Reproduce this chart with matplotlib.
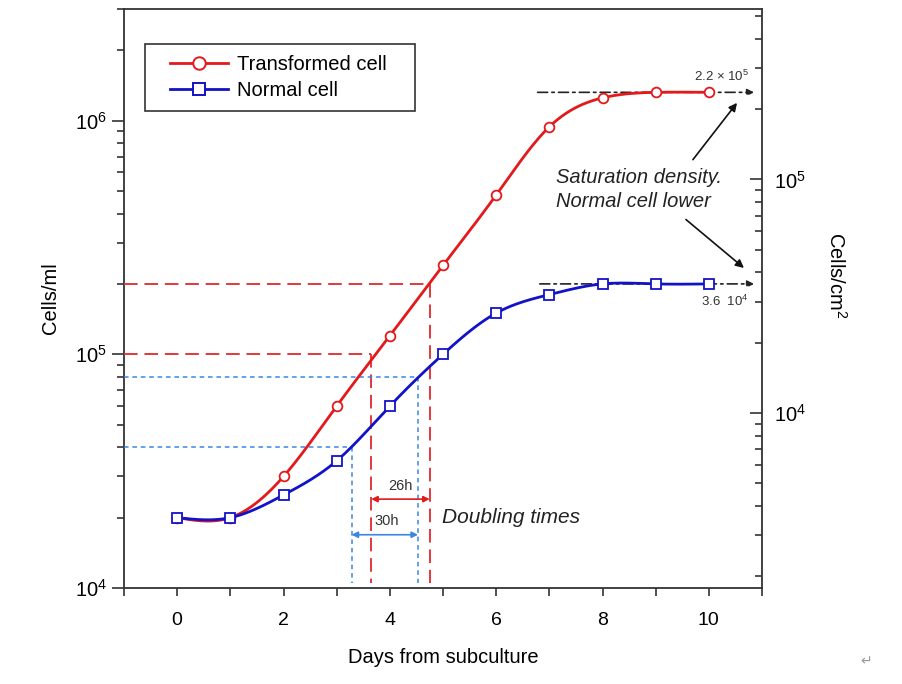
import numpy as np
import matplotlib
matplotlib.use("Agg")
import matplotlib.pyplot as plt
from matplotlib.patches import Rectangle
from matplotlib.ticker import LogLocator, NullFormatter, FixedLocator

plt.rcParams["font.family"] = ["Liberation Sans", "DejaVu Sans"]
plt.rcParams["mathtext.fontset"] = "custom"
plt.rcParams["mathtext.rm"] = "Liberation Sans"
plt.rcParams["mathtext.it"] = "Liberation Sans:italic"

# data
days = [0, 1, 2, 3, 4, 5, 6, 7, 8, 9, 10]
transformed = [2.0e4, 2.0e4, 3.0e4, 6.0e4, 1.2e5, 2.4e5, 4.8e5, 9.4e5, 1.25e6, 1.32e6, 1.32e6]
normal = [2.0e4, 2.0e4, 2.5e4, 3.5e4, 6.0e4, 1.0e5, 1.5e5, 1.8e5, 2.0e5, 2.0e5, 2.0e5]

# doubling-time guides: (y level, x where it meets the curve)
red_guides = [(1.0e5, 3.65), (2.0e5, 4.75)]
blue_guides = [(4.0e4, 3.28), (8.0e4, 4.53)]
sat_red, sat_blue = 1.32e6, 2.0e5
cm2_factor = 5.6  # cells/ml per cells/cm2


def natural_spline(x, y, xs):
    x = np.asarray(x, float); y = np.asarray(y, float)
    n = len(x); h = np.diff(x)
    A = np.zeros((n, n)); b = np.zeros(n)
    A[0, 0] = A[-1, -1] = 1
    for i in range(1, n - 1):
        A[i, i - 1] = h[i - 1]; A[i, i] = 2 * (h[i - 1] + h[i]); A[i, i + 1] = h[i]
        b[i] = 3 * ((y[i + 1] - y[i]) / h[i] - (y[i] - y[i - 1]) / h[i - 1])
    c = np.linalg.solve(A, b)
    out = np.empty_like(xs)
    for k, t in enumerate(xs):
        i = min(max(np.searchsorted(x, t) - 1, 0), n - 2)
        bi = (y[i + 1] - y[i]) / h[i] - h[i] * (2 * c[i] + c[i + 1]) / 3
        di = (c[i + 1] - c[i]) / (3 * h[i])
        dt = t - x[i]
        out[k] = y[i] + bi * dt + c[i] * dt ** 2 + di * dt ** 3
    return out


RED = "#e3191c"
BLUE = "#1212c8"
DRED = "#e2383c"
DBLUE = "#3a86e0"
FS = 14.5

fig = plt.figure(figsize=(9.02, 6.84), dpi=100)
ax = fig.add_axes([124 / 902, 1 - 588 / 684, (762 - 124) / 902, (588 - 9) / 684])
ax.set_yscale("log")
ax.set_xlim(-1, 11)
ax.set_ylim(1e4, 3e6)

xs = np.linspace(0, 10, 400)
ax.plot(xs, 10 ** natural_spline(days, np.log10(transformed), xs), color=RED, lw=2, zorder=4)
ax.plot(xs, 10 ** natural_spline(days, np.log10(normal), xs), color=BLUE, lw=2, zorder=4)
ax.plot(days, transformed, "o", color=RED, mfc="white", mew=1.3, ms=7, zorder=5)
ax.plot(days, normal, "s", color=BLUE, mfc="white", mew=1.3, ms=7.5, zorder=6)
# legend proxies
ax.plot([], [], "-o", color=RED, mfc="white", mew=1.4, ms=9, lw=2, label="Transformed cell")
ax.plot([], [], "-s", color=BLUE, mfc="white", mew=1.4, ms=9, lw=2, label="Normal cell")

for yv, xv in red_guides:
    ax.plot([-1, xv], [yv, yv], color=DRED, lw=1.4, dashes=(7, 3.5), zorder=3)
    ax.plot([xv, xv], [yv, 1.05e4], color=DRED, lw=1.4, dashes=(7, 3.5), zorder=3)
for yv, xv in blue_guides:
    ax.plot([-1, xv], [yv, yv], color=DBLUE, lw=1.1, dashes=(3, 2.5), zorder=3)
    ax.plot([xv, xv], [yv, 1.05e4], color=DBLUE, lw=1.1, dashes=(3, 2.5), zorder=3)

ax.annotate("", xy=(red_guides[1][1], 2.4e4), xytext=(red_guides[0][1], 2.4e4),
            arrowprops=dict(arrowstyle="<|-|>", color=RED, lw=1.2, mutation_scale=9, shrinkA=0, shrinkB=0))
ax.text(4.2, 2.55e4, "26h", fontsize=10.5, ha="center", va="bottom", color="#333333")
ax.annotate("", xy=(blue_guides[1][1], 1.69e4), xytext=(blue_guides[0][1], 1.69e4),
            arrowprops=dict(arrowstyle="<|-|>", color=DBLUE, lw=1.2, mutation_scale=9, shrinkA=0, shrinkB=0))
ax.text(3.95, 1.8e4, "30h", fontsize=10.5, ha="center", va="bottom", color="#333333")
ax.text(4.99, 2.0e4, "Doubling times", fontsize=15, style="italic", va="center", color="#222222")

# saturation lines
for yv, x0 in [(sat_red, 6.78), (sat_blue, 6.82)]:
    ax.annotate("", xy=(10.85, yv), xytext=(x0, yv),
                arrowprops=dict(arrowstyle="-|>", color="#222222", lw=1.2, ls=(0, (6, 2.5, 1.5, 2.5)),
                                mutation_scale=10, shrinkA=0, shrinkB=0), zorder=3)
ax.text(10.75, 1.55e6, r"2.2 $\times$ 10$^{5}$", fontsize=9.5, ha="right", va="center", color="#333333")
ax.text(10.75, 1.68e5, r"3.6  10$^{4}$", fontsize=9.5, ha="right", va="center", color="#333333")
ax.text(7.12, 5.06e5, "Saturation density.\nNormal cell lower", fontsize=FS, style="italic",
        va="center", ha="left", linespacing=1.3, color="#222222")
ax.annotate("", xy=(10.53, 1.19e6), xytext=(9.70, 6.8e5),
            arrowprops=dict(arrowstyle="-|>", color="#111111", lw=1.2, mutation_scale=12, shrinkA=0, shrinkB=0))
ax.annotate("", xy=(10.66, 2.34e5), xytext=(9.57, 3.77e5),
            arrowprops=dict(arrowstyle="-|>", color="#111111", lw=1.2, mutation_scale=12, shrinkA=0, shrinkB=0))

# axes styling
for s in ax.spines.values():
    s.set_color("#333333"); s.set_linewidth(1.3)
ax.xaxis.set_major_locator(FixedLocator([0, 2, 4, 6, 8, 10]))
ax.xaxis.set_minor_locator(FixedLocator([-1, 1, 3, 5, 7, 9, 11]))
ax.tick_params(axis="x", which="both", direction="out", length=6, width=1.2, color="#333333",
               labelsize=14, pad=11)
ax.tick_params(axis="y", which="major", direction="out", length=9, width=1.2, color="#333333",
               labelsize=FS, right=False)
ax.tick_params(axis="y", which="minor", direction="out", length=5, width=1.2, color="#333333", right=False)
ax.yaxis.set_major_locator(LogLocator(base=10))
ax.yaxis.set_minor_locator(LogLocator(base=10, subs=np.arange(2, 10)))
ax.yaxis.set_minor_formatter(NullFormatter())
ax.set_xlabel("Days from subculture", fontsize=FS, labelpad=14)
ax.set_ylabel("Cells/ml", fontsize=FS)
ax.yaxis.set_label_coords(-0.101, 0.5)

ax2 = ax.twinx()
ax2.set_yscale("log")
ax2.set_ylim(1e4 / cm2_factor, 3e6 / cm2_factor)
ax2.yaxis.set_major_locator(LogLocator(base=10))
ax2.yaxis.set_minor_locator(LogLocator(base=10, subs=np.arange(2, 10)))
ax2.yaxis.set_minor_formatter(NullFormatter())
ax2.tick_params(axis="y", which="major", direction="in", length=9, width=1.2, color="#333333",
                labelsize=FS, pad=9)
ax2.tick_params(axis="y", which="minor", direction="in", length=5, width=1.2, color="#333333")
for s in ax2.spines.values():
    s.set_visible(False)
ax2.set_ylabel("Cells/cm$^{2}$", fontsize=FS, rotation=270, va="center")
ax2.yaxis.set_label_coords(1.117, 0.54)

# legend: frame drawn separately to match the wide box
ax.add_patch(Rectangle(((145 - 124) / 638, (588 - 111) / 579), 270 / 638, 67 / 579,
                       transform=ax.transAxes, fill=True, facecolor="white", edgecolor="#333333",
                       lw=1.2, zorder=6))
leg = ax.legend(loc="upper left", bbox_to_anchor=((170 - 124) / 638, (588 - 55) / 579), fontsize=FS,
                frameon=False, handlelength=2.9, handletextpad=0.45, borderpad=0,
                borderaxespad=0, labelspacing=0.35)
leg.set_zorder(7)

fig.text(866 / 902, 1 - 661 / 684, "\u21b5", fontsize=10, color="#999999", ha="center", va="center",
         family="DejaVu Sans")

fig.savefig("out.png", dpi=100, facecolor="white")
